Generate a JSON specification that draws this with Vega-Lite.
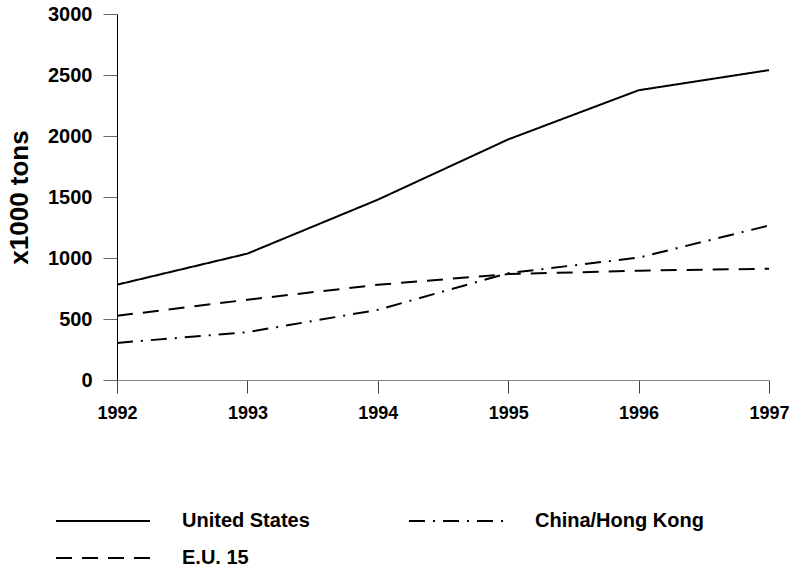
{
  "$schema": "https://vega.github.io/schema/vega-lite/v6.json",
  "width": 652,
  "height": 366,
  "autosize": {"type": "none"},
  "padding": {"left": 117, "top": 14, "right": 24, "bottom": 192},
  "background": "white",
  "config": {"view": {"stroke": null}, "font": "Liberation Sans"},
  "data": {"values": [
    {"year": 1992, "series": "United States", "value": 781},
    {"year": 1993, "series": "United States", "value": 1036},
    {"year": 1994, "series": "United States", "value": 1478},
    {"year": 1995, "series": "United States", "value": 1972},
    {"year": 1996, "series": "United States", "value": 2375},
    {"year": 1997, "series": "United States", "value": 2540},
    {"year": 1992, "series": "China/Hong Kong", "value": 304},
    {"year": 1993, "series": "China/Hong Kong", "value": 392},
    {"year": 1994, "series": "China/Hong Kong", "value": 575},
    {"year": 1995, "series": "China/Hong Kong", "value": 876},
    {"year": 1996, "series": "China/Hong Kong", "value": 1003},
    {"year": 1997, "series": "China/Hong Kong", "value": 1266},
    {"year": 1992, "series": "E.U. 15", "value": 526},
    {"year": 1993, "series": "E.U. 15", "value": 658},
    {"year": 1994, "series": "E.U. 15", "value": 781},
    {"year": 1995, "series": "E.U. 15", "value": 868},
    {"year": 1996, "series": "E.U. 15", "value": 896},
    {"year": 1997, "series": "E.U. 15", "value": 912}
  ]},
  "mark": {"type": "line", "color": "black", "strokeWidth": 2},
  "encoding": {
    "x": {
      "field": "year", "type": "quantitative",
      "scale": {"domain": [1992, 1997], "nice": false, "zero": false},
      "axis": {
        "title": null, "grid": false, "values": [1992, 1993, 1994, 1995, 1996, 1997],
        "format": "d", "labelFontSize": 18, "labelFontWeight": "bold", "labelColor": "black",
        "tickSize": 13, "tickColor": "#444", "domainColor": "#888", "labelPadding": 11,
        "labelFlush": false
      }
    },
    "y": {
      "field": "value", "type": "quantitative",
      "scale": {"domain": [0, 3000], "nice": false},
      "axis": {
        "title": "x1000 tons", "titleFontSize": 26, "titleFontWeight": "bold", "titleColor": "black",
        "grid": false, "values": [0, 500, 1000, 1500, 2000, 2500, 3000], "format": "d",
        "labelFontSize": 20, "labelFontWeight": "bold", "labelColor": "black",
        "tickSize": 14, "tickColor": "#666", "domainColor": "black", "labelPadding": 11,
        "titlePadding": 15, "labelFlush": false
      }
    },
    "strokeDash": {
      "field": "series", "type": "nominal",
      "scale": {
        "domain": ["United States", "China/Hong Kong", "E.U. 15"],
        "range": [[1, 0], [16, 8, 2, 8], [16, 10]]
      },
      "legend": {
        "title": null, "orient": "none", "legendX": -27, "legendY": 494, "padding": 0,
        "direction": "horizontal", "columns": 2,
        "symbolType": "M-4,0H4", "symbolSize": 552,
        "symbolStrokeWidth": 2, "symbolStrokeColor": "black",
        "labelFontSize": 20, "labelFontWeight": "bold", "labelColor": "black",
        "labelOffset": 66, "columnPadding": 95, "rowPadding": 14, "labelLimit": 300
      }
    }
  }
}
